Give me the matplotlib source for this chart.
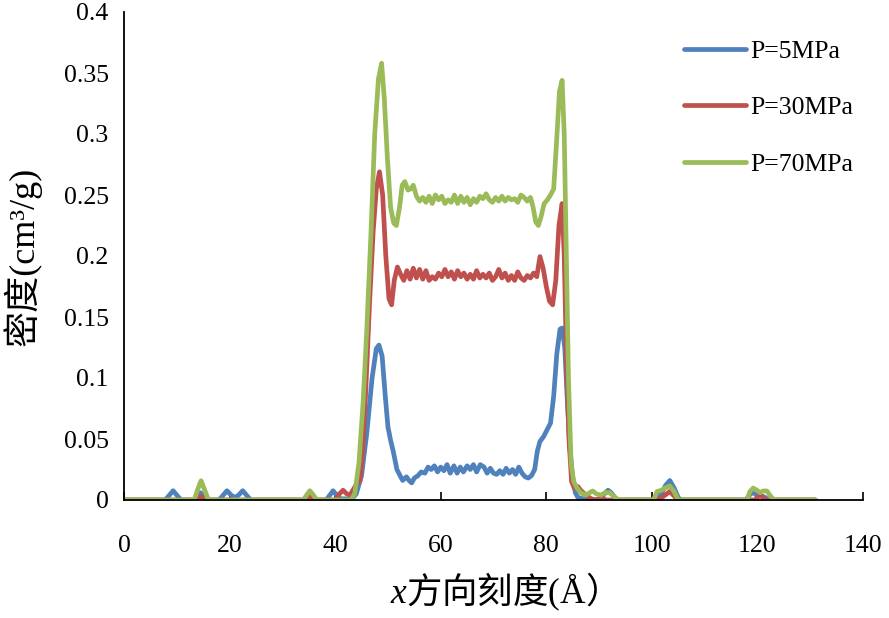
import matplotlib
matplotlib.use("Agg")
import matplotlib.pyplot as plt

# ---- data ----
x_5 = [0, 7.8, 8.6, 9.3, 10.0, 10.8, 13.2, 13.9, 14.5, 15.1, 15.8,
       18.0, 18.8, 19.5, 20.3, 21.0, 21.7, 22.5, 23.2, 24.0,
       34.0, 35.2, 36.4, 38.3, 39.0, 39.6, 40.3, 41.0, 42.0,
       43.0, 44.0, 45.0, 46.0, 47.0, 47.8, 48.3, 48.9, 49.5, 50.0, 50.5, 51.0,
       51.7, 52.3, 52.8, 53.5, 54.0, 54.5, 55.0, 55.7, 56.3, 57.0, 57.6, 58.2,
       58.8, 59.4, 60.0, 60.6, 61.2, 61.8, 62.5, 63.1, 63.7, 64.3, 65.0, 65.6,
       66.2, 66.8, 67.5, 68.2, 68.8, 69.4, 70.0, 70.6, 71.2, 71.8, 72.4, 73.0,
       73.6, 74.2, 74.8, 75.4, 76.0, 76.6, 77.2, 77.8, 78.3, 78.8, 79.5, 80.2,
       80.8, 81.4, 82.0, 82.6, 83.0, 83.5, 84.0, 84.5, 85.0, 85.5, 86.0, 87.0,
       88.0, 89.5, 90.4, 91.2, 91.7, 92.3, 93.0, 93.6, 100.4, 101.0, 101.8,
       102.6, 103.4, 104.2, 105.0, 105.5, 117.8, 118.5, 119.2, 119.8, 120.5,
       121.5, 122.3, 131.0]
y_5 = [0, 0, 0.004, 0.0076, 0.004, 0, 0, 0.003, 0.006, 0.003, 0,
       0, 0.004, 0.0076, 0.004, 0.002, 0.004, 0.0076, 0.004, 0,
       0, 0.005, 0, 0, 0.004, 0.0076, 0.004, 0.001, 0.001,
       0.0, 0.005, 0.02, 0.055, 0.1, 0.124, 0.127, 0.118, 0.085, 0.06, 0.049, 0.04,
       0.025, 0.02, 0.016, 0.019, 0.016, 0.014, 0.018, 0.02, 0.023, 0.022, 0.027, 0.025,
       0.028, 0.023, 0.027, 0.024, 0.029, 0.022, 0.028, 0.022, 0.027, 0.023, 0.028, 0.025,
       0.029, 0.023, 0.029, 0.027, 0.022, 0.026, 0.022, 0.021, 0.024, 0.021, 0.026, 0.022,
       0.025, 0.021, 0.027, 0.022, 0.019, 0.018, 0.02, 0.025, 0.04, 0.048, 0.052, 0.058,
       0.063, 0.085, 0.12, 0.14, 0.141, 0.125, 0.08, 0.041, 0.018, 0.006, 0.002, 0.001,
       0.0, 0.0, 0.002, 0.006, 0.008, 0.006, 0.002, 0.0, 0, 0.003, 0.005,
       0.012, 0.016, 0.01, 0.002, 0, 0, 0.004, 0.0066, 0.004, 0.004,
       0.002, 0.0, 0]

x_30 = [0, 13.5, 14.6, 15.7, 34.0, 35.2, 36.4,
        40.0, 40.8, 41.5, 42.2, 42.8, 43.5, 44.2, 44.7, 45.2, 45.8, 46.5, 47.2,
        47.8, 48.4, 49.0, 49.6, 50.2, 50.7, 51.2, 51.8, 52.4, 53.0, 53.6, 54.2,
        54.8, 55.4, 56.0, 56.6, 57.2, 57.8, 58.4, 59.0, 59.6, 60.2, 60.8, 61.4,
        62.0, 62.6, 63.2, 63.8, 64.4, 65.0, 65.6, 66.2, 66.8, 67.4, 68.0, 68.6,
        69.2, 69.8, 70.4, 71.0, 71.6, 72.2, 72.8, 73.4, 74.0, 74.6, 75.2, 75.8,
        76.4, 77.0, 77.6, 78.2, 78.8, 79.4, 80.0, 80.6, 81.2, 81.8, 82.4, 83.0,
        83.4, 83.8, 84.3, 84.8, 85.3, 86.0, 86.5, 87.5, 88.5, 89.5, 90.5, 91.3,
        101.0, 102.2, 103.4, 104.5, 105.0, 119.5, 120.5, 121.5, 131.0]
y_30 = [0, 0, 0.003, 0, 0, 0.003, 0,
        0, 0.005, 0.008, 0.005, 0.004, 0.009, 0.014, 0.016, 0.04, 0.09, 0.16, 0.22,
        0.255, 0.269, 0.25, 0.2, 0.165, 0.16, 0.18, 0.191, 0.185, 0.18, 0.188, 0.181,
        0.19, 0.182, 0.189, 0.181, 0.188, 0.18, 0.183, 0.181, 0.186, 0.183, 0.189, 0.183,
        0.187, 0.181, 0.188, 0.183, 0.186, 0.181, 0.185, 0.181, 0.188, 0.182, 0.185, 0.182,
        0.186, 0.18, 0.183, 0.189, 0.182, 0.186, 0.18, 0.184, 0.18, 0.187, 0.182, 0.18,
        0.184, 0.182, 0.186, 0.183, 0.1995, 0.19, 0.175, 0.163, 0.16, 0.18, 0.225, 0.243,
        0.2, 0.12, 0.05, 0.015, 0.01, 0.011, 0.008, 0.004, 0.001, 0.0, 0.002, 0.0,
        0, 0.003, 0.007, 0.002, 0, 0, 0.004, 0, 0]

x_70 = [0, 13.3, 13.9, 14.6, 15.3, 16.0, 34.0, 34.6, 35.2, 35.9, 36.5,
        43.0, 43.7, 44.5, 45.3, 46.0, 46.8, 47.5, 48.2, 48.8, 49.3, 49.9, 50.5,
        51.1, 51.6, 52.2, 52.7, 53.2, 53.8, 54.3, 54.8, 55.4, 56.0, 56.6, 57.2,
        57.8, 58.4, 59.0, 59.6, 60.2, 60.8, 61.4, 62.0, 62.6, 63.2, 63.8, 64.4,
        65.0, 65.6, 66.2, 66.8, 67.4, 68.0, 68.6, 69.2, 69.8, 70.4, 71.0, 71.6,
        72.2, 72.8, 73.4, 74.0, 74.6, 75.2, 75.8, 76.4, 77.0, 77.5, 78.0, 78.5,
        79.0, 79.6, 80.2, 80.8, 81.4, 81.9, 82.5, 83.0, 83.4, 83.8, 84.2, 84.7,
        85.2, 85.8, 86.5, 87.5, 88.2, 88.8, 89.5, 90.3, 91.2, 92.0, 92.8, 93.6,
        100.3, 101.0, 101.8, 102.6, 103.4, 104.2, 105.0, 118.0, 118.6, 119.2,
        119.9, 120.5, 121.1, 121.8, 122.5, 123.2, 131.0]
y_70 = [0, 0, 0.008, 0.0158, 0.008, 0, 0, 0.004, 0.0076, 0.004, 0,
        0, 0.005, 0.03, 0.08, 0.14, 0.22, 0.3, 0.345, 0.358, 0.33, 0.28, 0.24,
        0.227, 0.225, 0.24, 0.258, 0.261, 0.254, 0.255, 0.258, 0.249, 0.245, 0.248, 0.244,
        0.249, 0.243, 0.25, 0.246, 0.249, 0.243, 0.246, 0.244, 0.25, 0.243, 0.249, 0.244,
        0.248, 0.242, 0.247, 0.244, 0.249, 0.247, 0.251, 0.246, 0.244, 0.248, 0.245, 0.249,
        0.245, 0.248, 0.246, 0.247, 0.244, 0.25, 0.248, 0.245, 0.248, 0.24, 0.228, 0.225,
        0.232, 0.243, 0.246, 0.25, 0.255, 0.29, 0.335, 0.344, 0.3, 0.2, 0.1, 0.03,
        0.015, 0.01, 0.006, 0.004, 0.006, 0.0074, 0.005, 0.004, 0.006, 0.006, 0.003, 0,
        0, 0.007, 0.008, 0.01, 0.0115, 0.007, 0.0, 0, 0.007, 0.0098,
        0.008, 0.006, 0.0074, 0.0074, 0.003, 0, 0]

labels = ["P=5MPa", "P=30MPa", "P=70MPa"]
colors = ["#4F81BD", "#C0504D", "#9BBB59"]
xticks = [0, 20, 40, 60, 80, 100, 120, 140]
yticks = [0, 0.05, 0.1, 0.15, 0.2, 0.25, 0.3, 0.35, 0.4]
ytick_labels = ["0", "0.05", "0.1", "0.15", "0.2", "0.25", "0.3", "0.35", "0.4"]

serif = "Liberation Serif"
cjk = "Noto Sans CJK SC"
plt.rcParams["mathtext.fontset"] = "custom"
plt.rcParams["mathtext.rm"] = serif
plt.rcParams["mathtext.it"] = serif + ":italic"

fig = plt.figure(figsize=(8.89, 6.18), dpi=100)
ax = fig.add_axes([124 / 889, 118 / 618, (863 - 124) / 889, (500 - 12) / 618])

for xs, ys, lab, c in zip([x_5, x_30, x_70], [y_5, y_30, y_70], labels, colors):
    ax.plot(xs, ys, color=c, lw=3.4, label=lab, solid_joinstyle="round",
            solid_capstyle="round")

ax.set_xlim(0, 140)
ax.set_ylim(0, 0.4)
ax.set_xticks(xticks)
ax.set_xticklabels([str(t) for t in xticks], fontfamily=serif, fontsize=18.5)
ax.set_yticks(yticks)
ax.set_yticklabels(ytick_labels, fontfamily=serif, fontsize=18.5)
ax.tick_params(axis="x", direction="in", length=6, width=1.2, pad=25)
ax.tick_params(axis="y", direction="out", length=0, width=1.2, pad=11)
for s in ["top", "right"]:
    ax.spines[s].set_visible(False)
for s in ["left", "bottom"]:
    ax.spines[s].set_linewidth(1.3)

ax.set_xlabel(r"$x$方向刻度$\mathrm{(Å}$）", fontfamily=cjk, fontsize=25.5, labelpad=10)
ax.set_ylabel("密度(cm³/g)", fontfamily=[serif, cjk], fontsize=26, labelpad=16)

leg = ax.legend(loc="upper left", bbox_to_anchor=(0.727, 0.99), frameon=False,
                prop={"family": serif, "size": 18.5}, handlelength=2.4,
                handletextpad=0.15, labelspacing=1.3)

fig.savefig("out.png", dpi=100)
